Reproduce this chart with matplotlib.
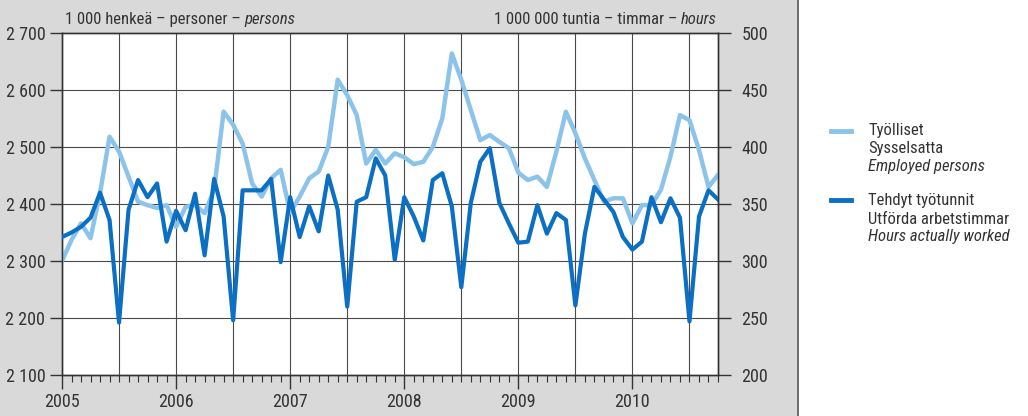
import matplotlib
matplotlib.use("Agg")
import matplotlib.pyplot as plt
from matplotlib import font_manager
from matplotlib.font_manager import FontProperties
from matplotlib.lines import Line2D
from matplotlib.patches import Rectangle

# monthly values, Jan 2005 - Oct 2010
years = ["2005", "2006", "2007", "2008", "2009", "2010"]
employed = [  # 1 000 persons (left axis)
    2300, 2337, 2366, 2340, 2419, 2518, 2492, 2448, 2404, 2398, 2393, 2398,
    2360, 2395, 2398, 2384, 2425, 2562, 2539, 2506, 2436, 2413, 2445, 2460,
    2385, 2413, 2445, 2457, 2500, 2618, 2591, 2556, 2471, 2495, 2471, 2489,
    2482, 2470, 2474, 2500, 2550, 2664, 2618, 2565, 2512, 2521, 2509, 2498,
    2455, 2442, 2448, 2430, 2492, 2562, 2524, 2480, 2442, 2404, 2410, 2410,
    2366, 2398, 2398, 2425, 2483, 2556, 2547, 2495, 2430, 2451]
hours = [  # 1 000 000 hours (right axis)
    321, 325, 330, 338, 360, 336, 246, 345, 371, 356, 368, 317,
    344, 327, 359, 305, 372, 339, 248, 362, 362, 362, 372, 299,
    356, 321, 348, 326, 375, 345, 260, 352, 356, 390, 375, 301,
    356, 339, 318, 371, 377, 348, 277, 351, 387, 399, 351, 333,
    316, 317, 349, 324, 342, 336, 261, 324, 365, 354, 343, 321,
    310, 317, 356, 334, 355, 338, 247, 339, 362, 354]
left_ticks = [2100, 2200, 2300, 2400, 2500, 2600, 2700]
right_ticks = [200, 250, 300, 350, 400, 450, 500]


def narrow_font(style, size):
    # look for a condensed face, otherwise fall back to plain Liberation Sans
    fonts = font_manager.fontManager.ttflist
    prefs = ["Liberation Sans Narrow", "Roboto Condensed", "Open Sans Condensed",
             "DejaVu Sans", "Liberation Sans"]
    for name in prefs:
        for f in fonts:
            if f.name != name or f.style != style or f.weight not in (400, "normal", "regular"):
                continue
            if name == "DejaVu Sans" and f.stretch != "condensed":
                continue
            return FontProperties(fname=f.fname, size=size)
    return FontProperties(family="Liberation Sans", style=style, size=size)


fp = narrow_font("normal", 13)
fp_s = narrow_font("normal", 12)
fp_i = narrow_font("italic", 12)

light = "#8cc3ea"
dark = "#0b6fc3"
txt = "#333333"
gridc = "#4a4a4a"

fig = plt.figure(figsize=(10.28, 4.16), dpi=100)
fig.patches.append(Rectangle((0, 0), 798 / 1028, 1, transform=fig.transFigure,
                             facecolor="#d9d9d9", edgecolor="none", zorder=-1))
fig.add_artist(Line2D([798 / 1028, 798 / 1028], [0, 1], color="#555555", lw=1.2))

ax = fig.add_axes([62 / 1028, 1 - 375 / 416, 656 / 1028, 342 / 416])
ax.set_facecolor("white")
ax2 = ax.twinx()
ax2.patch.set_visible(False)
ax.set_zorder(1)
ax2.set_zorder(2)

months = list(range(len(employed)))
ax.plot(months, employed, color=light, lw=3.2, zorder=3)
ax2.plot(months, hours, color=dark, lw=3.0, zorder=3)

ax.set_xlim(0, 69)
ax.set_ylim(2100, 2700)
ax2.set_ylim(200, 500)

ax.set_xticks(range(0, 70, 12))
ax.set_xticklabels(years)
ax.set_xticks(range(0, 70), minor=True)
ax.set_yticks(left_ticks)
ax.set_yticklabels([f"{v // 1000} {v % 1000:03d}" for v in left_ticks])
ax2.set_yticks(right_ticks)

for x in range(6, 70, 6):
    ax.axvline(x, color=gridc, lw=0.8, zorder=1)
for y in left_ticks[1:-1]:
    ax.axhline(y, color=gridc, lw=0.8, zorder=1)

for a in (ax, ax2):
    for s in a.spines.values():
        s.set_color("#333333")
        s.set_linewidth(1.0)

ax.tick_params(axis="x", which="major", length=10, width=1, color="#333333",
               labelcolor=txt, pad=3)
ax.tick_params(axis="x", which="minor", length=5, width=0.8, color="#333333")
ax.tick_params(axis="y", length=9, width=1, color="#333333", labelcolor=txt, pad=3)
ax2.tick_params(axis="y", length=9, width=1, color="#333333", labelcolor=txt, pad=8)
for lab in ax.get_xticklabels() + ax.get_yticklabels() + ax2.get_yticklabels():
    lab.set_fontproperties(fp)

# unit texts above the plot
base = 1 - 24 / 416
t1 = fig.text(65 / 1028, base, "1 000 henkeä – personer – ", fontproperties=fp_s,
              color=txt, ha="left", va="baseline")
fig.canvas.draw()
r = t1.get_window_extent()
fig.text(r.x1 / 1028, base, "persons", fontproperties=fp_i, color=txt,
         ha="left", va="baseline")

h = fig.text(717 / 1028, base, "hours", fontproperties=fp_i, color=txt,
             ha="right", va="baseline")
fig.canvas.draw()
rh = h.get_window_extent()
fig.text(rh.x0 / 1028, base, "1 000 000 tuntia – timmar – ", fontproperties=fp_s,
         color=txt, ha="right", va="baseline")

# legend
fig.add_artist(Line2D([831 / 1028, 851 / 1028], [1 - 131 / 416] * 2, color=light, lw=3.5))
fig.add_artist(Line2D([831 / 1028, 851 / 1028], [1 - 200 / 416] * 2, color=dark, lw=3.5))
leg = [("Työlliset", fp_s, 130), ("Sysselsatta", fp_s, 149),
       ("Employed persons", fp_i, 167),
       ("Tehdyt työtunnit", fp_s, 200), ("Utförda arbetstimmar", fp_s, 219),
       ("Hours actually worked", fp_i, 237)]
for s, f, yy in leg:
    fig.text(868 / 1028, 1 - yy / 416, s, fontproperties=f, color=txt,
             ha="left", va="center")

fig.savefig("out.png", dpi=100)
